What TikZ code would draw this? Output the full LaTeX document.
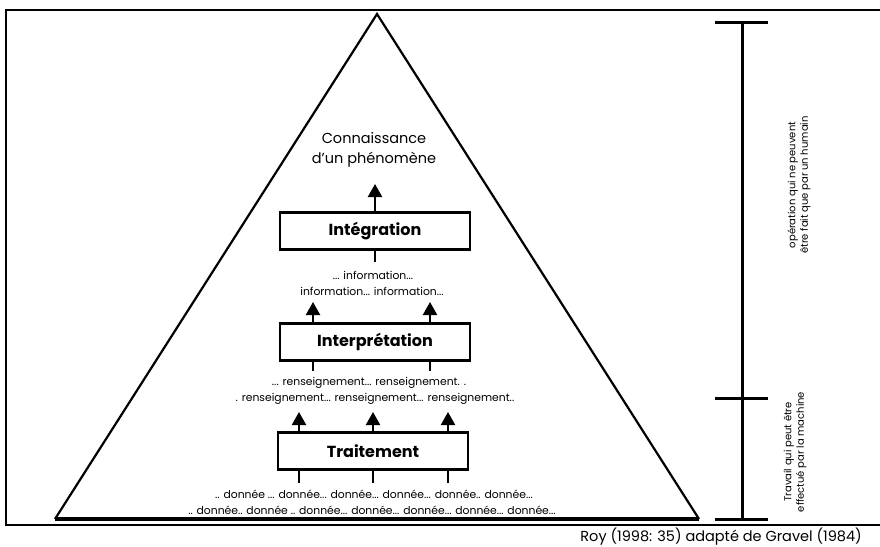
\documentclass[tikz,border=0pt]{standalone}
\usepackage{fontspec}
\setmainfont{Poppins}
\usetikzlibrary{arrows.meta}
\begin{document}
\begin{tikzpicture}[x=1pt,y=-1pt,
  box/.style={draw,line width=2.6pt,minimum width=190pt,minimum height=37pt,inner sep=0pt,font=\fontsize{16}{18}\selectfont\bfseries},
  small/.style={font=\fontsize{10.8}{12}\selectfont,inner sep=0pt},
  mid/.style={font=\fontsize{14.5}{20}\selectfont,inner sep=0pt,align=center},
  side/.style={font=\fontsize{10}{12.5}\selectfont,inner sep=0pt,align=center,rotate=90},
  uparrow/.style={line width=2.2pt,-{Triangle[width=14pt,length=13pt]}},
  stub/.style={line width=2.2pt},
  frameline/.style={line width=1.8pt},
  tick/.style={line width=3pt}
]
\useasboundingbox (0,0) rectangle (880,546);
% frame
\draw[frameline] (880,10) -- (6,10) -- (6,525) -- (880,525);
% pyramid
\coordinate (apex) at (377,14);
\coordinate (bl) at (55,519);
\coordinate (br) at (699,519);
\draw[line width=2.2pt,line join=miter] (bl) -- (apex) -- (br);
\draw[line width=4pt] (bl) -- (br);
% boxes
\node[box] (integ) at (375,231) {Intégration};
\node[box] (interp) at (375,342) {Interprétation};
\node[box] (trait) at (373,451) {Traitement};
% texts
\node[mid] (conn) at (374,150) {Connaissance\\d'un phénomène};
\node[small] (inf1) at (373,275) {... information...};
\node[small] (inf2) at (372,291) {information... information...};
\node[small] (ren1) at (369,383) {... renseignement... renseignement. .};
\node[small] (ren2) at (375,399) {. renseignement... renseignement... renseignement..};
\node[small] (don1) at (374,494) {.. donnée ... donnée... donnée... donnée... donnée.. donnée...};
\node[small] (don2) at (372,510) {.. donnée.. donnée .. donnée... donnée... donnée... donnée... donnée...};
% arrows
\coordinate (t1) at (375,184);
\draw[uparrow] (integ.north) -- (t1);
\coordinate (s1) at (375,262);
\draw[stub] (integ.south) -- (s1);
\coordinate (t2) at (313,302);
\coordinate (t3) at (430,302);
\draw[uparrow] (interp.north -| t2) -- (t2);
\draw[uparrow] (interp.north -| t3) -- (t3);
\coordinate (s2) at (313,371);
\coordinate (s3) at (430,371);
\draw[stub] (interp.south -| s2) -- (s2);
\draw[stub] (interp.south -| s3) -- (s3);
\coordinate (t4) at (299,412);
\coordinate (t5) at (373,412);
\coordinate (t6) at (448,412);
\draw[uparrow] (trait.north -| t4) -- (t4);
\draw[uparrow] (trait.north -| t5) -- (t5);
\draw[uparrow] (trait.north -| t6) -- (t6);
\coordinate (s4) at (299,483);
\coordinate (s5) at (373,483);
\coordinate (s6) at (448,483);
\draw[stub] (trait.south -| s4) -- (s4);
\draw[stub] (trait.south -| s5) -- (s5);
\draw[stub] (trait.south -| s6) -- (s6);
% bracket
\coordinate (btop) at (742,22);
\coordinate (bmid) at (742,398);
\coordinate (bbot) at (742,519);
\draw[tick] (btop) -- (bbot);
\draw[tick] ([xshift=-27pt]btop) -- ([xshift=26pt]btop);
\draw[tick] ([xshift=-27pt]bmid) -- ([xshift=26pt]bmid);
\draw[tick] ([xshift=-27pt]bbot) -- ([xshift=26pt]bbot);
\node[side] (hum) at (799,185) {opération qui ne peuvent\\être fait que par un humain};
\node[side] (mach) at (795,452) {Travail qui peut être\\effectué par la machine};
% caption
\node[anchor=east,font=\fontsize{14.5}{16}\selectfont,inner sep=0pt] (cap) at (862,537) {Roy (1998: 35) adapté de Gravel (1984)};
\end{tikzpicture}
\end{document}
